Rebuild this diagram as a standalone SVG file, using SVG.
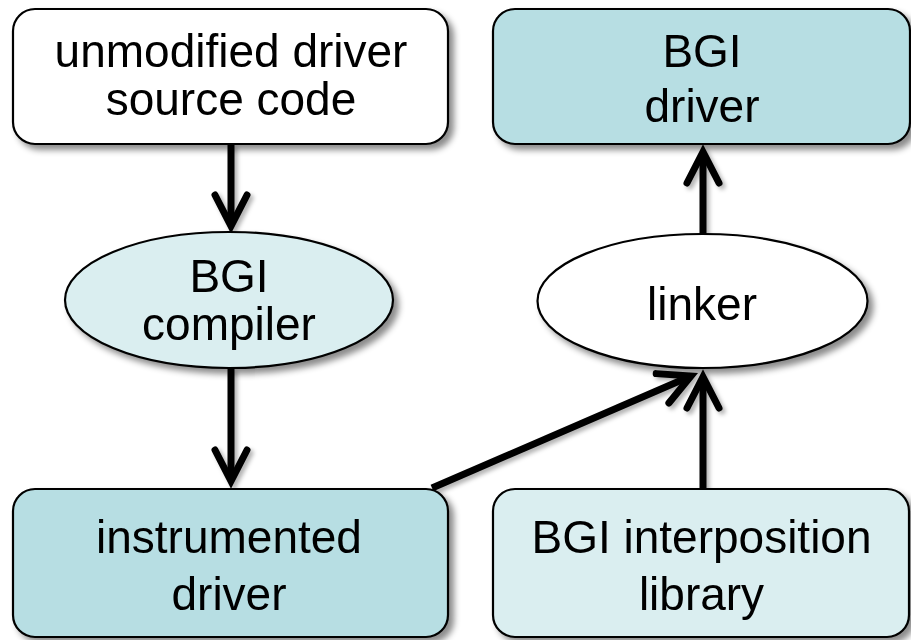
<svg xmlns="http://www.w3.org/2000/svg" width="911" height="640" viewBox="0 0 911 640">
<style>
.box{stroke:#000;stroke-width:2.2}
.white{fill:#ffffff}
.teal{fill:#b7dee3}
.light{fill:#daeef0}
.lbl{font-family:"Liberation Sans",Arial,sans-serif;font-size:46px;fill:#000;text-anchor:middle}
.conn{stroke:#000;stroke-width:7;fill:none}
</style>
<defs>
<filter id="sh" x="-10%" y="-10%" width="130%" height="130%">
<feDropShadow dx="5" dy="5" stdDeviation="3" flood-color="#000" flood-opacity="0.45"/>
</filter>
<filter id="shc" x="-10%" y="-10%" width="130%" height="130%">
<feDropShadow dx="3" dy="3" stdDeviation="2" flood-color="#000" flood-opacity="0.3"/>
</filter>
<marker id="chev" markerUnits="userSpaceOnUse" orient="auto" refX="0" refY="0" markerWidth="40" markerHeight="40" overflow="visible">
<path d="M-31,-16 L0,0 L-31,16" fill="none" stroke="#000" stroke-width="7" stroke-linecap="round" stroke-linejoin="miter"/>
</marker>
</defs>
<g id="connectors" filter="url(#shc)">
<path class="conn" d="M231,144 V226" marker-end="url(#chev)"/>
<path class="conn" d="M231,368 V481" marker-end="url(#chev)"/>
<path class="conn" d="M703,235 V152" marker-end="url(#chev)"/>
<path class="conn" d="M703,489 V377" marker-end="url(#chev)"/>
<path class="conn" d="M432,488 L691,376" marker-end="url(#chev)"/>
</g>
<g id="n_source" filter="url(#sh)">
<rect class="box white" x="13" y="9" width="435" height="135" rx="22"/>
<text class="lbl" x="231" y="67">unmodified driver</text>
<text class="lbl" x="231" y="115">source code</text>
</g>
<g id="n_bgidriver" filter="url(#sh)">
<rect class="box teal" x="493" y="9" width="417" height="135" rx="22"/>
<text class="lbl" x="702" y="67">BGI</text>
<text class="lbl" x="702" y="122">driver</text>
</g>
<g id="n_compiler" filter="url(#sh)">
<ellipse class="box light" cx="229" cy="300" rx="164" ry="68"/>
<text class="lbl" x="229" y="292">BGI</text>
<text class="lbl" x="229" y="340">compiler</text>
</g>
<g id="n_linker" filter="url(#sh)">
<ellipse class="box white" cx="702.5" cy="301" rx="165" ry="67"/>
<text class="lbl" x="702" y="320">linker</text>
</g>
<g id="n_instrumented" filter="url(#sh)">
<rect class="box teal" x="13" y="489" width="435" height="148" rx="22"/>
<text class="lbl" x="229" y="553">instrumented</text>
<text class="lbl" x="229" y="610">driver</text>
</g>
<g id="n_interposition" filter="url(#sh)">
<rect class="box light" x="493" y="489" width="416" height="148" rx="22"/>
<text class="lbl" x="701.5" y="553">BGI interposition</text>
<text class="lbl" x="701.5" y="610">library</text>
</g>
</svg>
